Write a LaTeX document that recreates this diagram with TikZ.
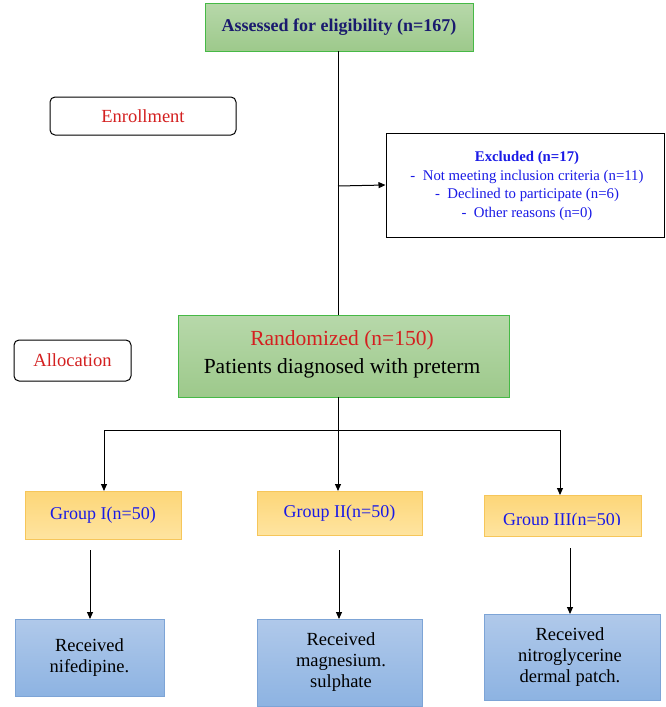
\documentclass[tikz,border=0pt]{standalone}
\usepackage{fontspec}
\setmainfont{Liberation Serif}
\usetikzlibrary{arrows.meta}
\definecolor{navy}{HTML}{1A1A6E}
\definecolor{txtred}{HTML}{D42020}
\definecolor{txtblue}{HTML}{1A1AE6}
\tikzset{
  x=1pt, y=-1pt,
  greenbox/.style={draw=green!45!gray, line width=0.8pt, top color={rgb,255:red,183;green,216;blue,170}, bottom color={rgb,255:red,157;green,201;blue,139}, inner sep=0pt},
  orangebox/.style={draw={rgb,255:red,246;green,198;blue,90}, line width=0.8pt, top color={rgb,255:red,253;green,214;blue,120}, bottom color={rgb,255:red,254;green,228;blue,160}, inner sep=0pt},
  bluebox/.style={draw={rgb,255:red,125;green,164;blue,214}, line width=0.8pt, top color={rgb,255:red,176;green,201;blue,234}, bottom color={rgb,255:red,141;green,179;blue,226}, inner sep=0pt},
  plainbox/.style={draw=black, line width=1pt, fill=white, inner sep=0pt},
  labelbox/.style={draw=black, line width=1pt, rounded corners=5pt, fill=white, inner sep=0pt},
  conn/.style={line width=1pt, draw=black},
  arr/.style={conn, -{Triangle[length=7pt,width=6pt]}},
}
\begin{document}
\begin{tikzpicture}
\useasboundingbox (0,0) rectangle (665,707);
% boxes
\node[greenbox, minimum width=268pt, minimum height=48pt] (assess) at (339,27) {};
\node[font=\bfseries\fontsize{18}{21}\selectfont, text=navy] at (assess.center) {Assessed for eligibility (n=167)};

\node[labelbox, minimum width=186pt, minimum height=38pt] (enroll) at (143,116) {};
\node[font=\fontsize{18.5}{21}\selectfont, text=txtred] at (enroll.center) {Enrollment};

\node[plainbox, minimum width=278pt, minimum height=104pt] (excl) at (525,185) {};
\node[text=txtblue, align=center, font=\fontsize{14.8}{18.8}\selectfont] at (527,186) {\textbf{Excluded (n=17)}\\ -\ \ Not meeting inclusion criteria (n=11)\\ -\ \ Declined to participate (n=6)\\ -\ \ Other reasons (n=0)};

\node[labelbox, minimum width=117pt, minimum height=41pt] (alloc) at (72.5,360.5) {};
\node[font=\fontsize{18.5}{21}\selectfont, text=txtred] at (alloc.center) {Allocation};

\node[greenbox, minimum width=331pt, minimum height=82pt] (rand) at (343.5,356) {};
\node[align=center, font=\fontsize{21.5}{28}\selectfont] at (342,354) {\textcolor{txtred}{Randomized (n=150)}\\ Patients diagnosed with preterm};

\node[orangebox, minimum width=156pt, minimum height=48pt] (g1) at (103,515) {};
\node[text=txtblue, font=\fontsize{18}{21}\selectfont] at (g1.center) {Group I(n=50)};
\node[orangebox, minimum width=165pt, minimum height=44pt] (g2) at (339.5,513) {};
\node[text=txtblue, font=\fontsize{18}{21}\selectfont] at (g2.center) {Group II(n=50)};
\node[orangebox, minimum width=157pt, minimum height=41pt] (g3) at (562.5,515.5) {};
\begin{scope}
\clip (484,495) rectangle (641,524);
\node[text=txtblue, font=\fontsize{18}{21}\selectfont] at (562,521) {Group III(n=50)};
\end{scope}

\node[bluebox, minimum width=149pt, minimum height=77pt] (b1) at (89.5,657.5) {};
\node[align=center, font=\fontsize{18.5}{21}\selectfont] at (b1.center) {Received\\ nifedipine.};
\node[bluebox, minimum width=165pt, minimum height=87pt] (b2) at (339.5,662.5) {};
\node[align=center, font=\fontsize{18.5}{21}\selectfont] at (341,662) {Received\\ magnesium.\\ sulphate};
\node[bluebox, minimum width=176pt, minimum height=86pt] (b3) at (572,657) {};
\node[align=center, font=\fontsize{18.5}{21}\selectfont] at (570,657) {Received\\ nitroglycerine\\ dermal patch.};

% connectors
\coordinate (branch) at (338,186);
\draw[conn] (338,51) -- (338,315);
\draw[arr] (branch) -- (excl.west);
\coordinate (split) at (338,430);
\coordinate (sl) at (104,430);
\coordinate (sr) at (560,430);
\draw[conn] (338,397) -- (split);
\draw[conn] (sl) -- (sr);
\draw[arr] (sl) -- (104,491);
\draw[arr] (split) -- (338,491);
\draw[arr] (sr) -- (560,495);
\draw[arr] (90,550) -- (90,619);
\draw[arr] (339,550) -- (339,619);
\draw[arr] (570,548) -- (570,614);
\end{tikzpicture}
\end{document}
